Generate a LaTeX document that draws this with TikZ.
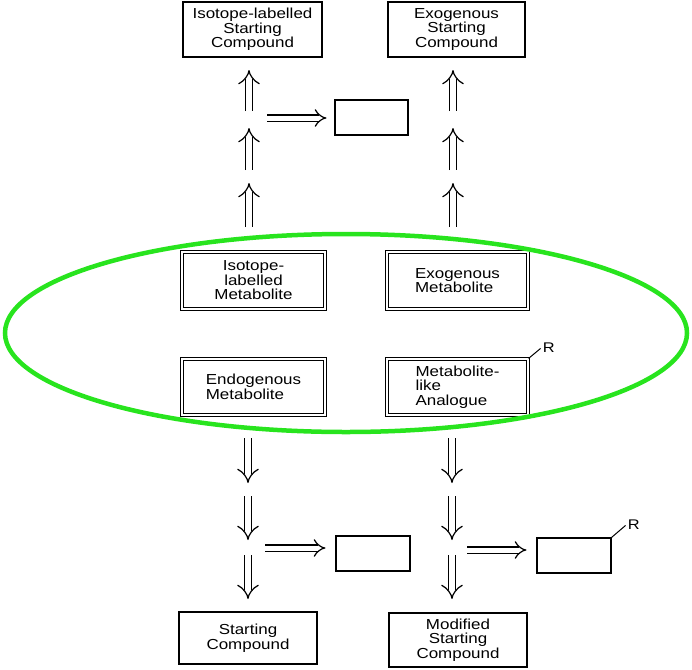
\documentclass[tikz,border=0pt]{standalone}
\usepackage{fontspec}
\newfontfamily\boxfont{Liberation Sans}[FakeStretch=1.17]
\usetikzlibrary{arrows.meta}

\definecolor{ringgreen}{RGB}{40,228,30}

\tikzset{
  plainbox/.style={draw, line width=1.1pt, font=\boxfont\fontsize{14.5}{14.5}\selectfont, inner sep=0pt},
  metbox/.style={plainbox, double, double distance=2.2pt, line width=1.2pt},
  vdbl/.style={double, double distance=6.5pt, line width=1.2pt, -{Implies[length=9pt, width=20pt]}},
  hdbl/.style={double, double distance=5pt, line width=1.2pt, -{Implies[length=8pt, width=16pt]}},
}

\begin{document}
\begin{tikzpicture}[x=1pt, y=-1pt]
    \useasboundingbox (0,0) rectangle (692,669);

    % Starting compounds (top)
    \node[plainbox, minimum width=139pt, minimum height=55pt, align=center] (isoStart) at (252.5,29.5) {Isotope-labelled\\Starting\\Compound};
    \node[plainbox, minimum width=137pt, minimum height=55pt, align=center] (exoStart) at (456.5,29.5) {Exogenous\\Starting\\Compound};
    \node[plainbox, minimum width=73pt, minimum height=35pt] (blankTop) at (371.5,117.5) {};

    % Metabolites inside the ring
    \node[metbox, minimum width=143pt, minimum height=57pt, align=center] (isoMet) at (253.5,280.5) {Isotope-\\labelled\\Metabolite};
    \node[metbox, minimum width=141pt, minimum height=57pt, align=left] (exoMet) at (457.5,280.5) {Exogenous\\Metabolite};
    \node[metbox, minimum width=143pt, minimum height=56pt, align=left] (endoMet) at (253.5,387) {Endogenous\\Metabolite};
    \node[metbox, minimum width=141pt, minimum height=56pt, align=left] (analog) at (457.5,387) {Metabolite-\\like\\Analogue};

    % Green ring
    \draw[ringgreen, line width=4.5pt] (346,333) ellipse [x radius=341, y radius=99];

    % Starting compounds (bottom)
    \node[plainbox, minimum width=74pt, minimum height=35pt] (blankL) at (373,553.5) {};
    \node[plainbox, minimum width=74pt, minimum height=35pt] (blankR) at (574,555.5) {};
    \node[plainbox, minimum width=138pt, minimum height=52pt, align=center] (startC) at (248,638) {Starting\\Compound};
    \node[plainbox, minimum width=138pt, minimum height=54pt, align=center] (modStart) at (458,640) {Modified\\Starting\\Compound};

    % R groups
    \draw[line width=1pt] (analog.north east) -- ++(12,-10) coordinate (rA);
    \node[font=\boxfont\fontsize{14}{14}\selectfont, inner sep=0pt, anchor=south west] (rA label) at ([xshift=2pt, yshift=-4pt]rA) {R};
    \draw[line width=1pt] (blankR.north east) -- ++(14,-12) coordinate (rB);
    \node[font=\boxfont\fontsize{14}{14}\selectfont, inner sep=0pt, anchor=south west] (rB label) at ([xshift=2pt, yshift=-4pt]rB) {R};

    % Arrow stops, upper columns
    \foreach \c/\x in {tl/249, tr/453} {
        \coordinate (\c0) at (\x,227);
        \coordinate (\c1) at (\x,183);
        \coordinate (\c2) at (\x,170);
        \coordinate (\c3) at (\x,128);
        \coordinate (\c4) at (\x,111);
        \coordinate (\c5) at (\x,70);
    }
    % Arrow stops, lower columns
    \foreach \c/\x in {bl/248, br/452} {
        \coordinate (\c0) at (\x,438);
        \coordinate (\c1) at (\x,483);
        \coordinate (\c2) at (\x,496);
        \coordinate (\c3) at (\x,540);
        \coordinate (\c4) at (\x,555);
        \coordinate (\c5) at (\x,599);
    }
    \coordinate (jTop) at (249,118);
    \coordinate (jL) at (248,548);
    \coordinate (jR) at (452,550);

    % Double arrows
    \foreach \c in {tl, tr, bl, br}
        \foreach \a/\b in {0/1, 2/3, 4/5}
            \draw[vdbl] (\c\a) -- (\c\b);
    \draw[hdbl, shorten <=18pt, shorten >=8pt] (jTop) -- (blankTop.west |- jTop);
    \draw[hdbl, shorten <=17pt, shorten >=10pt] (jL) -- (blankL.west |- jL);
    \draw[hdbl, shorten <=15pt, shorten >=10pt] (jR) -- (blankR.west |- jR);
\end{tikzpicture}
\end{document}
